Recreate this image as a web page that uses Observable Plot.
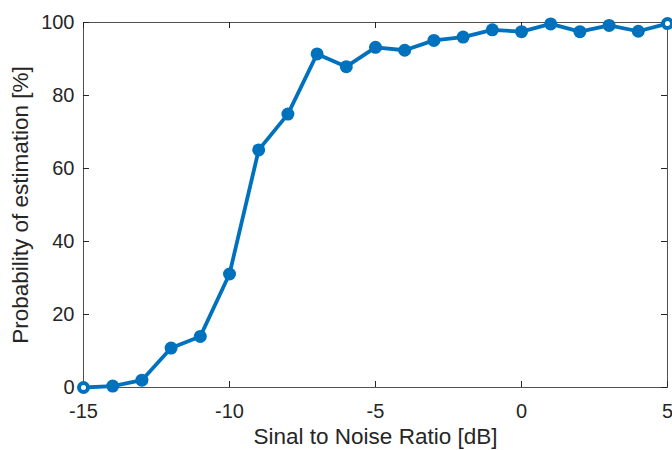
<!DOCTYPE html>
<html>
<head>
<meta charset="utf-8">
<script src="https://cdn.jsdelivr.net/npm/d3@7"></script>
<script src="https://cdn.jsdelivr.net/npm/@observablehq/plot@0.6"></script>
<style>
  html, body { margin: 0; padding: 0; background: #fff; }
</style>
</head>
<body>
<div id="chart"></div>
<script>
const snr = [-15, -14, -13, -12, -11, -10, -9, -8, -7, -6, -5, -4, -3, -2, -1, 0, 1, 2, 3, 4, 5];
const probability = [0, 0.4, 2, 10.8, 14, 31.1, 65.1, 74.9, 91.4, 87.9, 93.2, 92.4, 95.1, 96.0, 98.0, 97.5, 99.6, 97.5, 99.2, 97.6, 99.7];
const xTicks = [-15, -10, -5, 0, 5];
const yTicks = [0, 20, 40, 60, 80, 100];
const xLabel = "Sinal to Noise Ratio [dB]";
const yLabel = "Probability of estimation [%]";

const data = snr.map((x, i) => ({x, y: probability[i]}));
const edges = data.filter((d, i) => i === 0 || i === data.length - 1);

const W = 672, H = 450, mL = 83, mR = 5, mT = 22, mB = 63;
const pw = W - mL - mR, ph = H - mT - mB, tl = 6;
const blue = "#0072BD", ink = "#262626";

const chart = Plot.plot({
  width: W, height: H,
  marginLeft: mL, marginRight: mR, marginTop: mT, marginBottom: mB,
  style: {fontFamily: "'Liberation Sans', Arial, Helvetica, sans-serif", color: ink, background: "#fff"},
  x: {domain: [-15, 5], ticks: xTicks, label: null},
  y: {domain: [0, 100], ticks: yTicks, label: null},
  marks: [
    Plot.ruleX(xTicks, {x: d => d, insetTop: ph - tl, stroke: ink}),
    Plot.ruleX(xTicks, {x: d => d, insetBottom: ph - tl, stroke: ink}),
    Plot.ruleY(yTicks, {y: d => d, insetRight: pw - tl, stroke: ink}),
    Plot.ruleY(yTicks, {y: d => d, insetLeft: pw - tl, stroke: ink}),
    Plot.axisX({ticks: xTicks, tickSize: 0, tickPadding: 16, fontSize: 20, label: null, tickFormat: d => String(d)}),
    Plot.axisY({ticks: yTicks, tickSize: 0, tickPadding: 9, fontSize: 20, label: null, tickFormat: d => String(d)}),
    Plot.text([xLabel], {frameAnchor: "bottom", dy: 56, lineAnchor: "bottom", textAnchor: "middle", fontSize: 22.5, fill: ink}),
    Plot.text([yLabel], {frameAnchor: "left", dx: -63, rotate: -90, textAnchor: "middle", fontSize: 22.5, fill: ink}),
    Plot.frame({stroke: ink, strokeOpacity: 0.8}),
    Plot.line(data, {x: "x", y: "y", stroke: blue, strokeWidth: 3.8, clip: false}),
    Plot.dot(data, {x: "x", y: "y", r: 6.5, fill: blue, stroke: "none"}),
    Plot.dot(edges, {x: "x", y: "y", r: 2.5, fill: "#fff", stroke: "none"})
  ]
});
document.getElementById("chart").appendChild(chart);
</script>
</body>
</html>
